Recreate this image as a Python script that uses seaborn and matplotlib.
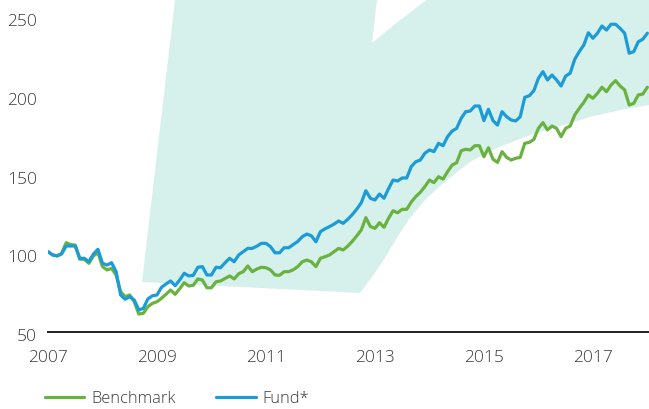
import numpy as np
import pandas as pd
import matplotlib
matplotlib.use("Agg")
import matplotlib.pyplot as plt
from matplotlib.patches import Polygon
import matplotlib.transforms as mtransforms
import seaborn as sns

# ---------------- data (monthly, Jan 2007 .. Jan 2018) ----------------
start_year = 2007
series_names = ["Benchmark", "Fund*"]

benchmark = [
    101.0, 98.9, 98.3, 100.0, 106.7, 105.5, 105.2, 96.2, 96.2, 93.6, 98.3, 100.3,
    91.5, 89.4, 90.4, 86.2, 75.6, 72.4, 73.5, 69.2, 61.4, 61.9, 66.1, 68.2,
    69.2, 71.4, 74.0, 76.7, 73.9, 77.5, 81.3, 79.2, 79.7, 83.7, 83.0, 78.1,
    78.1, 81.9, 82.4, 84.0, 85.6, 83.7, 87.0, 88.3, 91.9, 88.3, 90.0, 91.1,
    90.8, 89.4, 86.2, 86.0, 88.3, 88.3, 89.5, 91.5, 94.6, 95.7, 94.6, 91.5,
    96.8, 97.8, 98.9, 101.0, 103.1, 102.1, 104.5, 107.5, 111.0, 114.8, 122.6, 116.9,
    115.8, 119.4, 116.5, 122.2, 127.0, 125.7, 127.9, 127.9, 132.5, 136.0, 138.7, 142.3,
    146.5, 144.8, 148.6, 147.1, 151.8, 156.0, 157.5, 165.1, 166.0, 165.6, 168.3, 168.3,
    161.3, 167.0, 159.7, 157.7, 164.5, 160.9, 159.2, 160.3, 160.9, 169.8, 170.4, 172.3,
    179.3, 182.9, 178.3, 180.8, 179.3, 174.0, 179.3, 180.8, 187.8, 192.0, 195.8, 200.5,
    198.4, 201.5, 205.4, 202.6, 206.8, 209.6, 206.2, 203.7, 194.1, 195.2, 200.5, 201.1,
    205.4,
]

fund = [
    101.0, 99.0, 98.3, 99.5, 104.6, 104.6, 104.6, 96.8, 96.8, 94.6, 99.5, 102.5,
    93.6, 92.5, 94.0, 88.3, 73.5, 70.8, 72.4, 70.3, 64.0, 65.0, 71.0, 73.0,
    73.5, 78.4, 80.5, 82.4, 79.4, 83.0, 87.3, 85.6, 86.0, 91.1, 91.5, 86.2,
    86.2, 91.1, 90.8, 94.0, 96.8, 94.6, 98.9, 101.0, 103.1, 103.1, 104.5, 106.3,
    106.3, 104.2, 100.3, 100.3, 103.5, 103.5, 105.5, 107.5, 110.5, 112.2, 111.1, 107.3,
    113.7, 115.5, 116.9, 118.5, 120.5, 119.0, 121.5, 124.5, 128.0, 132.1, 139.7, 134.9,
    133.8, 137.6, 134.9, 141.0, 146.5, 145.9, 147.8, 147.8, 155.0, 158.1, 159.2, 163.5,
    165.6, 164.5, 169.8, 168.3, 174.0, 177.6, 179.3, 185.7, 189.9, 190.3, 193.5, 193.5,
    184.2, 191.4, 184.2, 181.4, 189.9, 186.7, 184.6, 184.0, 186.7, 199.0, 200.0, 203.2,
    211.1, 215.3, 210.0, 213.2, 210.0, 206.2, 212.5, 214.3, 223.1, 228.0, 232.2, 240.0,
    236.5, 239.7, 244.3, 241.7, 245.4, 245.4, 242.8, 239.7, 227.0, 228.0, 234.3, 235.9,
    239.7,
]

x_ticks = [2007, 2009, 2011, 2013, 2015, 2017]
y_ticks = [50, 100, 150, 200, 250]

# ---------------- build long-form table ----------------
n = len(fund)
t = start_year + np.arange(n) / 12.0
df = pd.concat([
    pd.DataFrame({"t": t, "value": benchmark, "series": series_names[0]}),
    pd.DataFrame({"t": t, "value": fund, "series": series_names[1]}),
], ignore_index=True)

# ---------------- style ----------------
sns.set_style("white")
plt.rcParams["font.family"] = ["Open Sans", "DejaVu Sans"]
plt.rcParams["font.weight"] = "light"
text_color = "#3a3a3a"
green = "#6ab240"
blue = "#1b9bd7"
teal = "#d6f0eb"

W, H = 649, 409
fig = plt.figure(figsize=(W / 100, H / 100), dpi=100)
ax = fig.add_axes([48 / W, (H - 332) / H, (W - 48) / W, 332 / H])

# decorative background shape (pixel coords -> figure fraction)
shape_px = [(175, 0), (377, 0), (372, 43), (383, 34), (395, 24), (407, 15),
            (417, 7), (427, 0),
            (649, 0), (649, 105), (620, 110), (590, 117), (560, 126), (530, 135),
            (497, 148), (470, 162), (452, 176), (440, 186), (425, 200), (410, 218),
            (398, 236), (385, 258), (372, 277), (360, 293), (142, 282)]
shape_fig = [(x / W, 1 - y / H) for x, y in shape_px]
fig.patches.append(Polygon(shape_fig, closed=True, transform=fig.transFigure,
                           facecolor=teal, edgecolor="none", zorder=0))
ax.set_facecolor("none")
ax.set_zorder(1)

sns.lineplot(data=df, x="t", y="value", hue="series",
             palette={series_names[0]: green, series_names[1]: blue},
             linewidth=2.3, ax=ax, legend=True)

ax.set_xlim(2007.0, 2018.03)
ax.set_ylim(50, 260.8)
ax.set_xticks(x_ticks)
ax.set_xticklabels([str(v) for v in x_ticks])
ax.set_yticks(y_ticks)
ax.set_yticklabels([str(v) for v in y_ticks])
ax.set_xlabel("")
ax.set_ylabel("")
ax.tick_params(axis="both", length=0, labelsize=12.5, colors=text_color)
ax.tick_params(axis="x", pad=13)
ax.tick_params(axis="y", pad=8)
shift = mtransforms.ScaledTranslation(0, -3 / 100, fig.dpi_scale_trans)
for lbl in ax.get_yticklabels():
    lbl.set_transform(lbl.get_transform() + shift)
for s in ["top", "right", "left"]:
    ax.spines[s].set_visible(False)
ax.spines["bottom"].set_color("#222222")
ax.spines["bottom"].set_linewidth(1.4)
ax.grid(False)

handles, labels = ax.get_legend_handles_labels()
ax.get_legend().remove()
leg = fig.legend(handles, labels, loc="center left",
                 bbox_to_anchor=(45 / W, (H - 399) / H),
                 ncol=2, frameon=False, fontsize=11.8,
                 handlelength=2.4, handletextpad=0.4, columnspacing=2.5,
                 borderpad=0, borderaxespad=0)
for txt in leg.get_texts():
    txt.set_color(text_color)
for lh in leg.get_lines():
    lh.set_linewidth(2.3)

fig.savefig("out.png", dpi=100)
